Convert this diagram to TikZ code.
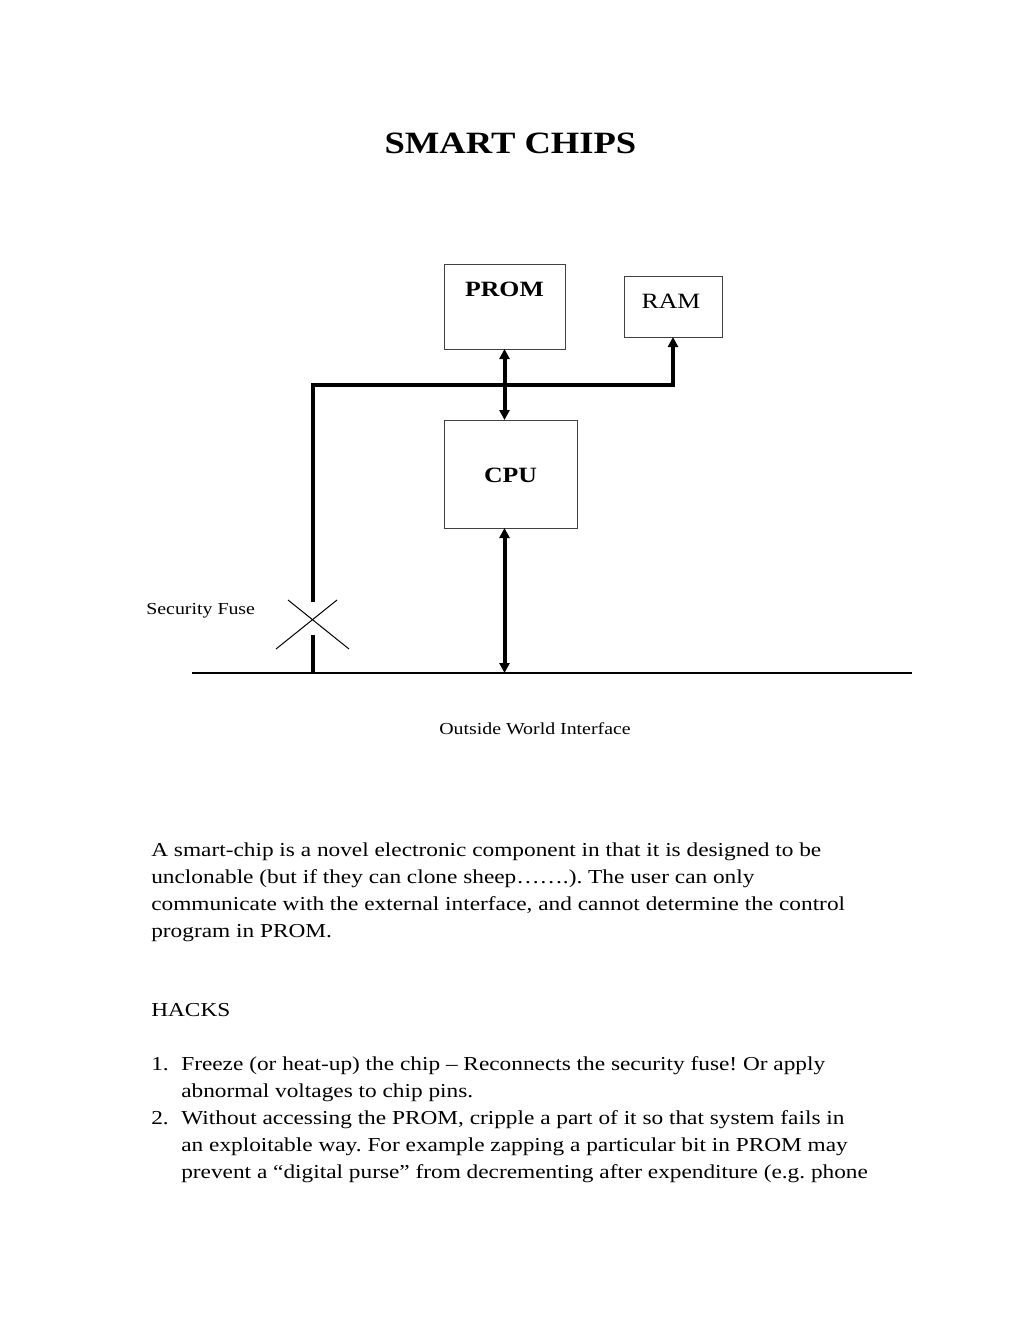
\documentclass[tikz,border=0pt]{standalone}
\usepackage{fontspec}
\setmainfont{Liberation Serif}[FakeStretch=1.18]
\usetikzlibrary{arrows.meta,calc}
\frenchspacing
\newcommand\fsbody{\fontsize{11.85}{14}\selectfont}
\newcommand\fssmall{\fontsize{10.1}{12}\selectfont}
\newcommand\fstitle{\fontsize{18.6}{22}\selectfont\bfseries}
\newcommand\fsbox{\fontsize{13.1}{15}\selectfont}
\begin{document}
\begin{tikzpicture}[x=0.6pt,y=-0.6pt,
  chipbox/.style={draw=black!75,line width=0.6pt,inner sep=0pt,outer sep=0pt},
  bus/.style={line width=2.4pt},
  tip/.style={-{Triangle[length=6pt,width=6pt]}},
  tips/.style={{Triangle[length=6pt,width=6pt]}-{Triangle[length=6pt,width=6pt]}},
  bodyline/.style={anchor=base west,inner sep=0pt,font=\fsbody},
  smalltext/.style={inner sep=0pt,font=\fssmall},
  boxlabel/.style={anchor=base,inner sep=0pt,font=\fsbox}]
\useasboundingbox (0,0) rectangle (1020,1320);

% title
\node[anchor=base,inner sep=0pt,font=\fstitle] (title) at (510.5,153) {SMART CHIPS};

% boxes
\node[chipbox,minimum width=121*0.6pt,minimum height=85*0.6pt] (prom) at (504.5,306.5) {};
\node[chipbox,minimum width=98*0.6pt,minimum height=61*0.6pt] (ram) at (673,306.5) {};
\node[chipbox,minimum width=133*0.6pt,minimum height=108*0.6pt] (cpu) at (510.5,474) {};
\node[boxlabel,font=\fsbox\bfseries] (promlbl) at (504.5,296) {PROM};
\node[boxlabel] (ramlbl) at (671,308) {RAM};
\node[boxlabel,font=\fsbox\bfseries] (cpulbl) at (510.5,482) {CPU};

% bus coordinates
\coordinate (busl) at (192,673);
\coordinate (busr) at (912,673);
\coordinate (corner) at (313,385);
\coordinate (fuse) at (312.5,624.5);
\coordinate (fusetop) at (313,602);
\coordinate (fusebot) at (313,635);

% connectors
\draw[bus,tips] (prom.south) -- (prom.south |- cpu.north);
\draw[bus,tip,line cap=butt] (fusetop) -- (corner) -- (corner -| ram.south) -- (ram.south);
\draw[bus] (fusebot) -- (fusebot |- busl);
\draw[bus,tips] (prom.south |- cpu.south) -- (prom.south |- busl);
\draw[line width=0.8pt] (busl) -- (busr);

% fuse cross
\draw[line width=0.6pt] ($(fuse)+(-24.5,-24.5)$) -- ($(fuse)+(36.5,24.5)$);
\draw[line width=0.6pt] ($(fuse)+(24.5,-24.5)$) -- ($(fuse)+(-36.5,24.5)$);

% labels
\node[smalltext,anchor=base west] (fuselbl) at (146,614) {Security Fuse};
\node[smalltext,anchor=base] (owi) at (535,734) {Outside World Interface};

% body text
\node[bodyline] (p1) at (151,856) {A smart-chip is a novel electronic component in that it is designed to be};
\node[bodyline] (p2) at (151,883) {unclonable (but if they can clone sheep…….). The user can only};
\node[bodyline] (p3) at (151,910) {communicate with the external interface, and cannot determine the control};
\node[bodyline] (p4) at (151,937) {program in PROM.};
\node[bodyline] (hacks) at (151,1016) {HACKS};
\node[bodyline] (n1) at (151,1070) {1.};
\node[bodyline] (h1a) at (181,1070) {Freeze (or heat-up) the chip – Reconnects the security fuse! Or apply};
\node[bodyline] (h1b) at (181,1097) {abnormal voltages to chip pins.};
\node[bodyline] (n2) at (151,1124) {2.};
\node[bodyline] (h2a) at (181,1124) {Without accessing the PROM, cripple a part of it so that system fails in};
\node[bodyline] (h2b) at (181,1151) {an exploitable way. For example zapping a particular bit in PROM may};
\node[bodyline] (h2c) at (181,1178) {prevent a “digital purse” from decrementing after expenditure (e.g. phone};
\end{tikzpicture}
\end{document}
